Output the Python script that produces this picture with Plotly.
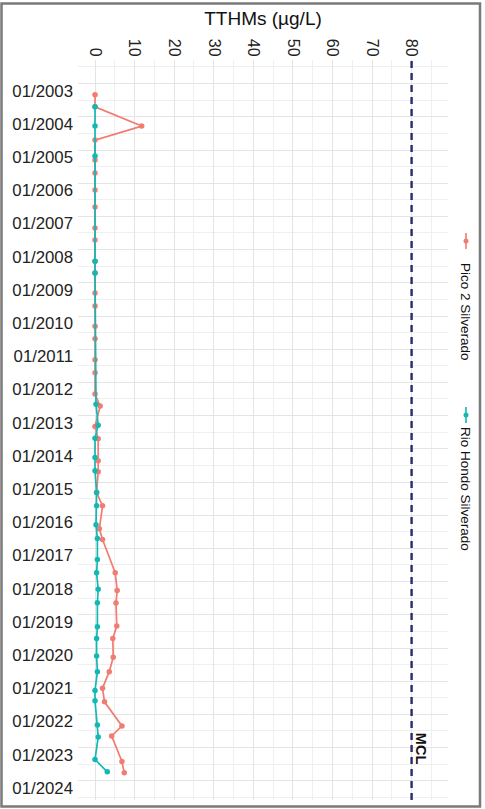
import plotly.graph_objects as go

# ---- data -------------------------------------------------------------
pico_dates = [
    "2003-05-04", "2003-09-13", "2004-04-12", "2004-09-13", "2005-04-20",
    "2005-09-09", "2006-03-15", "2006-09-20", "2007-05-08", "2007-09-17",
    "2008-05-08", "2008-09-13", "2009-04-23", "2009-09-13", "2010-04-23",
    "2010-09-09", "2011-04-27", "2011-09-17", "2012-05-08", "2012-09-17",
    "2013-05-01", "2013-09-13", "2014-05-12", "2014-09-09", "2015-04-27",
    "2015-09-20", "2016-05-30", "2016-09-24", "2017-09-24", "2018-04-09",
    "2018-08-25", "2019-05-05", "2019-09-17", "2020-04-12", "2020-09-17",
    "2021-03-18", "2021-08-15", "2022-05-08", "2022-08-25", "2023-06-03",
    "2023-10-05",
]
pico_tthm = [
    0, 0, 11.8, 0, 0,
    0, 0, 0, 0, 0,
    0, 0, 0, 0, 0,
    0, 0, 0, 0, 1.3,
    0, 0.8, 0.8, 0.8, 0.4,
    1.9, 1.1, 1.9, 5.1, 5.6,
    5.3, 5.5, 4.5, 4.6, 3.6,
    1.9, 2.4, 6.8, 4.2, 6.8,
    7.4,
]

rio_dates = [
    "2003-09-13", "2004-04-12", "2005-03-08", "2008-05-08", "2008-09-13",
    "2012-08-29", "2013-04-16", "2013-09-06", "2014-04-05", "2014-08-29",
    "2015-04-27", "2015-09-20", "2016-04-16", "2016-09-13", "2017-05-01",
    "2017-09-24", "2018-03-26", "2018-08-22", "2019-05-12", "2019-09-17",
    "2020-03-29", "2020-09-17", "2021-04-12", "2021-08-04", "2022-04-27",
    "2022-09-06", "2023-05-12", "2023-09-24",
]
rio_tthm = [
    0, 0, 0, 0, 0,
    0.25, 0.8, 0, 0, 0,
    0.4, 0.4, 0.25, 0.6, 0.6,
    0.4, 0.8, 0.6, 0.6, 0.4,
    0.4, 0.6, 0, 0, 0.6,
    0.8, 0, 3.1,
]

series_names = ["Pico 2 Silverado", "Rio Hondo Silverado"]
series_colors = ["#F07C72", "#14B8B2"]

mcl_value = 80
mcl_label = "MCL"
mcl_label_date = "2023-01-15"

x_ticks = [0, 10, 20, 30, 40, 50, 60, 70, 80]
label_years = list(range(2003, 2025))
axis_title = "TTHMs (µg/L)"

# ---- figure -----------------------------------------------------------
W, H = 485, 809
L, R, T, B = 78, 37, 60, 9
FONT = "Liberation Sans, Arial, sans-serif"

fig = go.Figure()

# Rio Hondo drawn last so it sits on top of Pico 2
for name, xs, ys, col in [
    (series_names[0], pico_tthm, pico_dates, series_colors[0]),
    (series_names[1], rio_tthm, rio_dates, series_colors[1]),
]:
    fig.add_trace(go.Scatter(
        x=xs, y=ys, name=name, mode="lines+markers",
        line=dict(color=col, width=1.7),
        marker=dict(color=col, size=5.5),
        showlegend=False,
    ))

# regulatory limit
fig.add_shape(type="line", xref="x", yref="paper",
              x0=mcl_value, x1=mcl_value, y0=0, y1=1,
              line=dict(color="#282c6c", width=2.4, dash="7px,5px"))
fig.add_annotation(x=82.4, y=mcl_label_date, xref="x", yref="y",
                   text="<b>" + mcl_label + "</b>", textangle=90,
                   showarrow=False,
                   font=dict(family=FONT, size=14.5, color="#111"))

# rotated legend on the right
def px_to_paper(px, py):
    pw, ph = W - L - R, H - T - B
    return (px - L) / pw, 1 - (py - T) / ph

leg_items = [
    (series_names[0], series_colors[0], 241, 312),
    (series_names[1], series_colors[1], 415, 489),
]
for text, col, key_y, text_y in leg_items:
    xk, yk0 = px_to_paper(466, key_y - 8)
    _, yk1 = px_to_paper(466, key_y + 8)
    fig.add_shape(type="line", xref="paper", yref="paper",
                  x0=xk, x1=xk, y0=yk0, y1=yk1,
                  line=dict(color=col, width=1.6))
    cx0, cy0 = px_to_paper(463.5, key_y - 2.5)
    cx1, cy1 = px_to_paper(468.5, key_y + 2.5)
    fig.add_shape(type="circle", xref="paper", yref="paper",
                  x0=cx0, x1=cx1, y0=cy1, y1=cy0,
                  fillcolor=col, line=dict(color=col, width=0))
    tx, ty = px_to_paper(466, text_y)
    fig.add_annotation(x=tx, y=ty, xref="paper", yref="paper",
                       text=text, textangle=90, showarrow=False,
                       xanchor="center", yanchor="middle",
                       font=dict(family=FONT, size=13.5, color="#111"))

# outer frame
fx0, fy0 = px_to_paper(1.5, 3.5)
fx1, fy1 = px_to_paper(480, 806.5)
fig.add_shape(type="rect", xref="paper", yref="paper",
              x0=fx0, x1=fx1, y0=fy1, y1=fy0,
              line=dict(color="#7a7a7a", width=2.5), fillcolor="rgba(0,0,0,0)",
              layer="above")

fig.update_layout(
    width=W, height=H,
    margin=dict(l=L, r=R, t=T, b=B, autoexpand=False),
    paper_bgcolor="white", plot_bgcolor="white",
    font=dict(family=FONT, color="#111"),
    showlegend=False,
    xaxis=dict(
        side="top", range=[-4.3, 89.2],
        tickvals=x_ticks, ticktext=[str(v) for v in x_ticks],
        tickangle=90, tickfont=dict(size=16, color="#222"),
        showgrid=True, gridcolor="#e4e4e4", gridwidth=1,
        minor=dict(dtick=5, tick0=0, showgrid=True, gridcolor="#efefef", gridwidth=1),
        zeroline=False, showline=False, ticks="",
        title=dict(text=axis_title, font=dict(size=19, color="#111"), standoff=8),
        automargin=False,
    ),
    yaxis=dict(
        type="date", range=["2024-07-30", "2002-04-16"],
        tickvals=[f"{y}-01-01" for y in label_years],
        ticktext=[f"01/{y}" for y in label_years],
        tickfont=dict(size=16.8, color="#222"),
        ticklabelshift=-7, ticklabelstandoff=4,
        showgrid=True, gridcolor="#e4e4e4", gridwidth=1,
        minor=dict(dtick="M6", tick0="2002-07-01", showgrid=True,
                   gridcolor="#efefef", gridwidth=1),
        zeroline=False, showline=False, ticks="",
        automargin=False,
    ),
)

fig.write_html("out.html")
